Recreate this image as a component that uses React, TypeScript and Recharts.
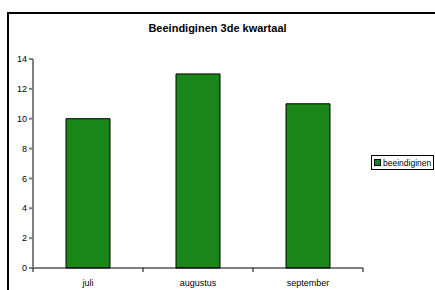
import React from "react";
import { BarChart, Bar, XAxis, YAxis } from "recharts";

const months = ["juli", "augustus", "september"];
const beeindiginen = [10, 13, 11];
const yTicks = [0, 2, 4, 6, 8, 10, 12, 14];
const seriesName = "beeindiginen";

const data = months.map((m, i) => ({ month: m, beeindiginen: beeindiginen[i] }));

const font = "'Liberation Sans', Arial, sans-serif";
const green = "#1a861a";

// category axis: labels centred, tick marks on the category borders
const MonthTick = (props: any) => {
  const { x, y, payload, index } = props;
  const half = payload?.offset ?? 55;
  return (
    <g>
      <line x1={x - half} y1={y - 8} x2={x - half} y2={y - 4} stroke="#000" />
      {index === months.length - 1 && (
        <line x1={x + half} y1={y - 8} x2={x + half} y2={y - 4} stroke="#000" />
      )}
      <text x={x} y={y + 10} textAnchor="middle" fontSize={9} fontFamily={font} fill="#000">
        {payload.value}
      </text>
    </g>
  );
};

export default function App() {
  return (
    <div
      style={{
        position: "absolute",
        left: 0,
        top: 0,
        width: 435,
        height: 290,
        overflow: "hidden",
        background: "#fff",
      }}
    >
      <div
        style={{
          position: "absolute",
          left: 7,
          top: 12,
          width: 500,
          height: 400,
          border: "2px solid #000",
        }}
      />
      <div
        style={{
          position: "absolute",
          top: 22,
          left: 0,
          width: 435,
          textAlign: "center",
          fontFamily: font,
          fontWeight: "bold",
          fontSize: 11,
        }}
      >
        Beeindiginen 3de kwartaal
      </div>
      <div style={{ position: "absolute", left: 0, top: 0 }}>
        <BarChart
          width={435}
          height={290}
          data={data}
          margin={{ top: 59, right: 72, bottom: 0, left: 8 }}
        >
          <XAxis
            dataKey="month"
            stroke="#000"
            tickLine={false}
            tick={<MonthTick />}
            height={22}
          />
          <YAxis
            domain={[0, 14]}
            ticks={yTicks}
            width={25}
            stroke="#808080"
            strokeWidth={2}
            tickSize={4}
            tick={{ fontSize: 9, fontFamily: font, fill: "#000" }}
          />
          <Bar
            dataKey="beeindiginen"
            fill={green}
            stroke="#000"
            strokeWidth={1}
            barSize={44}
            isAnimationActive={false}
          />
        </BarChart>
      </div>
      <div
        style={{
          position: "absolute",
          left: 371,
          top: 155,
          height: 13,
          border: "1px solid #000",
          padding: "0 2px",
          fontSize: 8.5,
          fontFamily: font,
          display: "flex",
          alignItems: "center",
          background: "#fff",
          whiteSpace: "nowrap",
        }}
      >
        <span
          style={{
            display: "inline-block",
            width: 5,
            height: 5,
            background: green,
            border: "1px solid #000",
            marginRight: 2,
          }}
        />
        {seriesName}
      </div>
    </div>
  );
}
